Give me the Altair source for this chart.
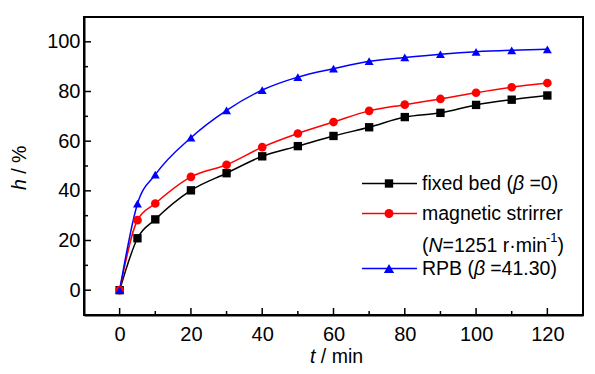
import altair as alt
import pandas as pd

# ---- data ----
t_min = [0, 5, 10, 20, 30, 40, 50, 60, 70, 80, 90, 100, 110, 120]
fixed_bed = [0, 20.9, 28.5, 40.2, 47.1, 53.9, 58.0, 62.1, 65.6, 69.7, 71.4, 74.6, 76.7, 78.4]
magnetic = [0, 28.2, 34.9, 45.6, 50.5, 57.6, 63.1, 67.7, 72.2, 74.7, 77.0, 79.5, 81.7, 83.4]
rpb = [0, 34.8, 46.5, 61.4, 72.4, 80.6, 85.8, 89.2, 92.2, 93.7, 95.0, 96.0, 96.6, 97.0]

series_names = ["fixed bed", "magnetic strirrer", "RPB"]
series_colors = ["#000000", "#FF0000", "#0000FF"]
series_shapes = ["square", "circle", "triangle-up"]
series_sizes = [70, 80, 105]

x_major = [0, 20, 40, 60, 80, 100, 120]
x_minor = [10, 30, 50, 70, 90, 110]
y_major = [0, 20, 40, 60, 80, 100]
y_minor = [10, 30, 50, 70, 90]

W, H = 499, 298
FONT = "Liberation Sans"
FS = 19.5

rows = []
for name, vals in zip(series_names, [fixed_bed, magnetic, rpb]):
    for tt, v in zip(t_min, vals):
        rows.append({"t": tt, "h": v, "series": name})
df = pd.DataFrame(rows)

xs = alt.Scale(domain=[-10, 130], nice=False, zero=False)
ys = alt.Scale(domain=[-10, 110], nice=False, zero=False)
cs = alt.Scale(domain=series_names, range=series_colors)
ss = alt.Scale(domain=series_names, range=series_shapes)
zs = alt.Scale(domain=series_names, range=series_sizes)

axis_common = dict(ticks=False, grid=False, labelFontSize=20, labelFont=FONT,
                   labelColor="black", domainColor="black", domainWidth=2, title=None)
x_axis = alt.Axis(values=x_major, labelPadding=9, **axis_common)
y_axis = alt.Axis(values=y_major, labelPadding=4, **axis_common)

lines = alt.Chart(df).mark_line(interpolate="monotone", strokeWidth=1.5).encode(
    x=alt.X("t:Q", scale=xs, axis=x_axis),
    y=alt.Y("h:Q", scale=ys, axis=y_axis),
    color=alt.Color("series:N", scale=cs, legend=None),
    detail="series:N",
)

points = alt.Chart(df).mark_point(filled=True, opacity=1).encode(
    x=alt.X("t:Q", scale=xs, axis=x_axis),
    y=alt.Y("h:Q", scale=ys, axis=y_axis),
    color=alt.Color("series:N", scale=cs, legend=None),
    shape=alt.Shape("series:N", scale=ss, legend=None),
    size=alt.Size("series:N", scale=zs, legend=None),
)

# inward ticks
def xticks(vals, length):
    return alt.Chart(pd.DataFrame({"t": vals})).mark_rule(color="black", strokeWidth=1.5).encode(
        x=alt.X("t:Q", scale=xs, axis=x_axis), y=alt.value(H), y2=alt.value(H - length))

def yticks(vals, length):
    return alt.Chart(pd.DataFrame({"h": vals})).mark_rule(color="black", strokeWidth=1.5).encode(
        y=alt.Y("h:Q", scale=ys, axis=y_axis), x=alt.value(0), x2=alt.value(length))

one = pd.DataFrame({"k": [0]})

def txt(label, x, y, italic=False, size=FS, angle=0):
    kw = dict(align="left", baseline="middle", font=FONT, fontSize=size, color="black")
    if italic:
        kw["fontStyle"] = "italic"
    if angle:
        kw["angle"] = angle
    return alt.Chart(one).mark_text(**kw).encode(
        x=alt.value(x), y=alt.value(y), text=alt.value(label))

def leg_line(color, y):
    return alt.Chart(one).mark_rule(color=color, strokeWidth=1.5).encode(
        x=alt.value(278), x2=alt.value(333), y=alt.value(y))

def leg_pt(color, shape, y, size):
    return alt.Chart(one).mark_point(filled=True, opacity=1, color=color, shape=shape, size=size).encode(
        x=alt.value(305), y=alt.value(y))

TX = 338
r1, r2, r3, r4 = 166.5, 196.5, 229, 251.5

layers = [
    lines, points,
    xticks(x_major, 7), xticks(x_minor, 4),
    yticks(y_major, 7), yticks(y_minor, 4),
    # legend
    leg_line(series_colors[0], r1), leg_pt(series_colors[0], "square", r1, series_sizes[0]),
    leg_line(series_colors[1], r2), leg_pt(series_colors[1], "circle", r2, series_sizes[1]),
    leg_line(series_colors[2], r4), leg_pt(series_colors[2], "triangle-up", r4, series_sizes[2]),
    txt("fixed bed (", TX, r1), txt("β", TX + 91, r1, italic=True), txt("=0)", TX + 107.4, r1),
    txt("magnetic strirrer", TX, r2),
    txt("(", TX, r3), txt("N", TX + 6.5, r3, italic=True), txt("=1251 r·min", TX + 20.6, r3),
    txt("-1", TX + 124, r3 - 8, size=13), txt(")", TX + 135.5, r3),
    txt("RPB (", TX, r4), txt("β", TX + 52, r4, italic=True), txt("=41.30)", TX + 68.2, r4),
    # axis titles
    txt("t", 226, 340, italic=True), txt("/ min", 236.8, 340),
    txt("h", -64, 173, italic=True, angle=270), txt("/ %", -64, 156.8, angle=270),
]

chart = alt.layer(*layers).properties(
    width=W, height=H,
    autosize=alt.AutoSizeParams(type="none"),
    padding={"left": 76, "top": 9, "right": 4, "bottom": 54},
).configure(background="white").configure_view(stroke="black", strokeWidth=2)

chart.save("out.html", embed_options={"renderer": "svg", "actions": False})
